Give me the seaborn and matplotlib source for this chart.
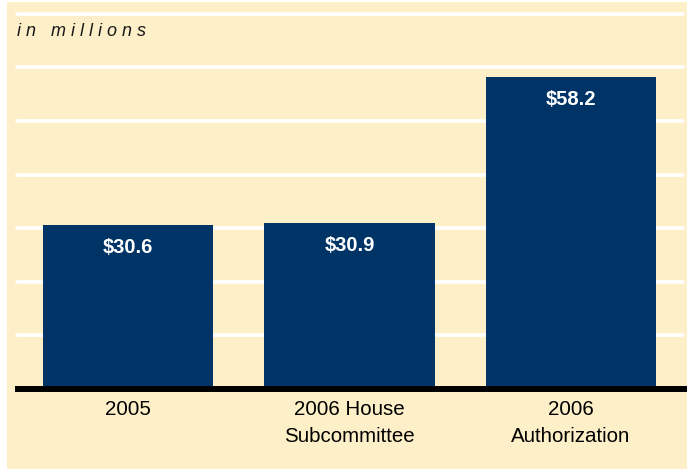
import matplotlib
matplotlib.use("Agg")
import matplotlib.pyplot as plt
import seaborn as sns
import pandas as pd
from matplotlib.patches import Rectangle

# data
categories = ["2005", "2006 House\nSubcommittee", "2006\nAuthorization"]
values = [30.6, 30.9, 58.2]
grid_levels = [10, 20, 30, 40, 50, 60, 70]

sns.set_theme(style="white")
plt.rcParams["font.family"] = ["Liberation Sans", "DejaVu Sans"]

bg = "#FDF0C8"
navy = "#003366"

fig = plt.figure(figsize=(6.87, 4.69), dpi=100, facecolor="white")
# yellow panel (thin white border on left/top)
fig.patches.append(Rectangle((7 / 687, 0), 1, 1 - 2 / 469, transform=fig.transFigure,
                             facecolor=bg, edgecolor="none", zorder=-1))

ax = fig.add_axes([15 / 687, 80 / 469, 672 / 687, 387 / 469])
ax.set_facecolor("none")

df = pd.DataFrame({"cat": categories, "val": values})
sns.barplot(data=df, x="cat", y="val", color=navy, saturation=1, width=0.77,
            linewidth=0, ax=ax, zorder=3)

# white grid lines
for g in grid_levels:
    ax.axhline(g, xmin=2 / 672, xmax=668 / 672, color="white", lw=2.6,
               solid_capstyle="round", zorder=1)

# thick baseline
ax.axhline(0, color="black", lw=4.3, zorder=4, clip_on=False,
           solid_capstyle="butt")

ax.set_xlim(-0.51, 2.524)
ax.set_ylim(0, 72.2)
ax.set_xlabel("")
ax.set_ylabel("")
ax.set_yticks([])
for s in ax.spines.values():
    s.set_visible(False)
ax.tick_params(axis="x", length=0, pad=8, labelsize=14.8, labelcolor="black")
for lab in ax.get_xticklabels():
    lab.set_linespacing(1.5)

# value labels inside bars
for i, v in enumerate(values):
    ax.annotate(f"${v}", xy=(i, v), xytext=(0, -16), textcoords="offset points",
                ha="center", va="center", color="white", fontsize=14.5,
                fontweight="bold", zorder=5)

fig.text(17 / 687, 1 - 31 / 469, "i n   m i l l i o n s", fontsize=13,
         fontstyle="italic", color="#1a1a1a", ha="left", va="center")

fig.savefig("out.png", dpi=100, facecolor=fig.get_facecolor())
